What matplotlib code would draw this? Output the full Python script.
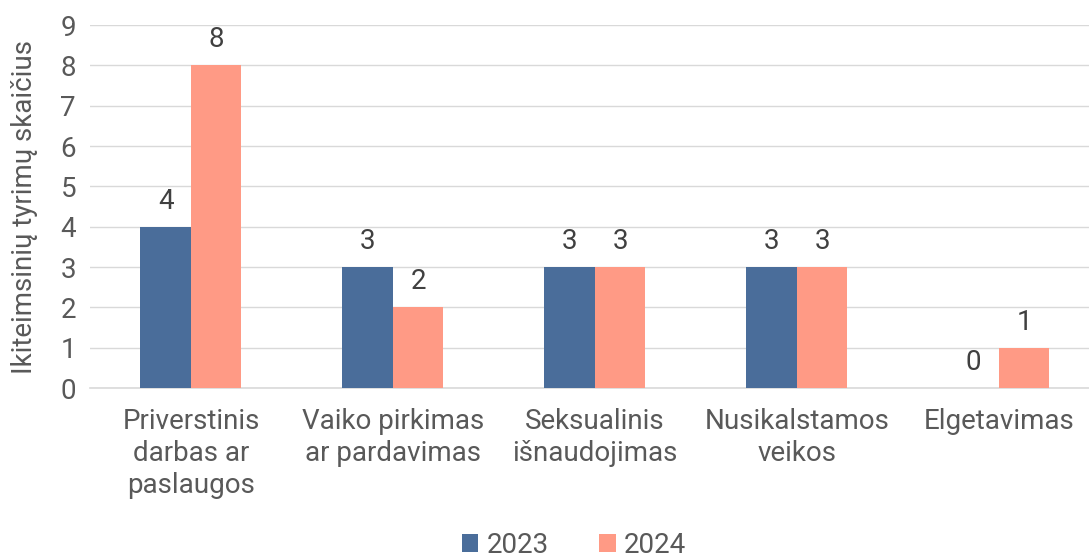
import numpy as np
import matplotlib.pyplot as plt

categories = ["Priverstinis\ndarbas ar\npaslaugos", "Vaiko pirkimas\nar pardavimas",
              "Seksualinis\nišnaudojimas", "Nusikalstamos\nveikos", "Elgetavimas"]
v2023 = [4, 3, 3, 3, 0]
v2024 = [8, 2, 3, 3, 1]

plt.rcParams['font.family'] = ['Roboto', 'DejaVu Sans']
txt = "#595959"
fs = 20

fig = plt.figure(figsize=(10.89, 5.56), dpi=100)
ax = fig.add_axes([0.0826, 0.302, 0.9275, 0.653])

x = np.arange(len(categories))
w = 0.25
b1 = ax.bar(x - w / 2, v2023, w, color="#4a6d9a", label="2023", zorder=3)
b2 = ax.bar(x + w / 2, v2024, w, color="#ff9a85", label="2024", zorder=3)

for bars in (b1, b2):
    for r in bars:
        ax.text(r.get_x() + r.get_width() / 2, r.get_height() + 0.3, str(int(r.get_height())),
                ha="center", va="bottom", fontsize=fs, color="#404040")

ax.set_xlim(-0.5, 4.5)
ax.set_ylim(0, 9)
ax.set_yticks(range(10))
ax.grid(axis="y", color="#d9d9d9", linewidth=1, zorder=0)
for s in ("top", "right", "left"):
    ax.spines[s].set_visible(False)
ax.spines["bottom"].set_color("#d9d9d9")
ax.spines["bottom"].set_linewidth(1.2)
ax.tick_params(axis="both", length=0, labelsize=fs, labelcolor=txt)
ax.tick_params(axis="y", pad=10)
ax.tick_params(axis="x", pad=14)
ax.set_xticks(x)
ax.set_xticklabels(categories, linespacing=1.25)
ax.set_ylabel("Ikiteimsinių tyrimų skaičius", fontsize=fs, color=txt, labelpad=16)

# legend is clipped at the bottom edge, as in the original
fig.legend(loc="lower center", bbox_to_anchor=(0.527, -0.05), ncol=2, frameon=False,
           fontsize=fs, labelcolor=txt, handlelength=0.6, handleheight=0.6,
           handletextpad=0.3, columnspacing=1.8)

fig.savefig("out.png", dpi=100)
